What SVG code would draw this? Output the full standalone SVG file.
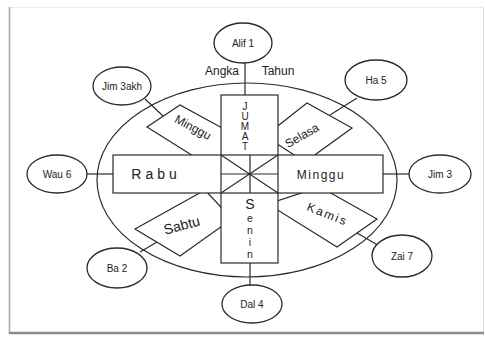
<svg xmlns="http://www.w3.org/2000/svg" width="485" height="337" viewBox="0 0 485 337">
<style>
.ln{fill:none;stroke:#2a2a2a;stroke-width:1.2}
.wf{fill:#fff;stroke:#2a2a2a;stroke-width:1.2}
.nd{fill:#fff;stroke:#2a2a2a;stroke-width:1.3}
.t{font-family:"Liberation Sans",Arial,sans-serif;fill:#222;text-anchor:middle}
.v{writing-mode:vertical-rl;text-orientation:upright}
.s{font-size:10px}
.m{font-size:12px}
.b{font-size:14px}
</style>
<rect x="0" y="0" width="485" height="337" fill="#fff"/>
<g id="frame">
<line x1="9" y1="7.5" x2="484" y2="7.5" stroke="#ececec" stroke-width="1"/>
<line x1="9.5" y1="7" x2="9.5" y2="334" stroke="#a8a8a8" stroke-width="1.6"/>
<line x1="483.5" y1="7" x2="483.5" y2="334" stroke="#dedede" stroke-width="1"/>
<line x1="9" y1="333" x2="484" y2="333" stroke="#8c8c8c" stroke-width="2.5"/>
</g>
<g id="ring">
<ellipse class="ln" cx="247" cy="180" rx="150" ry="97"/>
</g>
<g id="connectors">
<line class="ln" x1="245" y1="62" x2="245" y2="95"/>
<line class="ln" x1="145" y1="99" x2="163" y2="116"/>
<line class="ln" x1="357" y1="98" x2="330" y2="115"/>
<line class="ln" x1="87" y1="174" x2="113" y2="174"/>
<line class="ln" x1="383" y1="174" x2="409" y2="174"/>
<line class="ln" x1="140" y1="252" x2="157" y2="242"/>
<line class="ln" x1="250" y1="263" x2="250" y2="286"/>
<line class="ln" x1="357" y1="233" x2="381" y2="247"/>
</g>
<g id="minggu-diag">
<polygon class="wf" points="225,176 147,127 180,105 235,135"/>
<text class="t m" transform="translate(191,131) rotate(28)">Minggu</text>
</g>
<g id="selasa-diag">
<polygon class="wf" points="265,136 307,103 352,128 305,162"/>
<text class="t m" transform="translate(304,139) rotate(-30)">Selasa</text>
</g>
<g id="sabtu-diag">
<polygon class="wf" points="205,190 135,229 180,256 232,219"/>
<text class="t b" transform="translate(183,230) rotate(-15)">Sabtu</text>
</g>
<g id="kamis-diag">
<polygon class="wf" points="320,187 377,219 337,247 268,204"/>
<text class="t m" letter-spacing="2" transform="translate(326,218) rotate(22)">Kamis</text>
</g>
<g id="cross">
<path d="M221,95 H278 V155 H383 V193 H278 V263 H221 V193 H113 V155 H221 Z" fill="#fff" stroke="none"/>
<rect class="ln" x="221" y="95" width="57" height="168"/>
<rect class="ln" x="113" y="155" width="270" height="38"/>
<line class="ln" x1="221" y1="155" x2="278" y2="193"/>
<line class="ln" x1="278" y1="155" x2="221" y2="193"/>
<line class="ln" x1="250" y1="155" x2="250" y2="193"/>
<line class="ln" x1="221" y1="174" x2="278" y2="174"/>
</g>
<g id="jumat">
<text class="t v" x="245" y="126" font-size="10" letter-spacing="-1">JUMAT</text>
</g>
<g id="senin">
<text class="t v" x="250" y="228" font-size="10.5"><tspan font-size="14">S</tspan>enin</text>
</g>
<g id="rabu">
<text class="t b" x="156" y="179" letter-spacing="4">Rabu</text>
</g>
<g id="minggu-right">
<text class="t m" x="321" y="179" letter-spacing="1.5">Minggu</text>
</g>
<g id="angka-tahun">
<text class="t m" x="222" y="75">Angka</text>
<text class="t m" x="278" y="75">Tahun</text>
</g>
<g id="alif1">
<ellipse class="nd" cx="243" cy="43" rx="29" ry="20"/>
<text class="t s" x="243" y="47">Alif 1</text>
</g>
<g id="jim3akhir">
<ellipse class="nd" cx="122" cy="86" rx="29" ry="19"/>
<text class="t s" x="122" y="90">Jim 3akh</text>
</g>
<g id="ha5">
<ellipse class="nd" cx="376" cy="80" rx="31" ry="20"/>
<text class="t s" x="376" y="84">Ha 5</text>
</g>
<g id="wau6">
<ellipse class="nd" cx="57" cy="174" rx="30" ry="19"/>
<text class="t s" x="57" y="178">Wau 6</text>
</g>
<g id="jim3">
<ellipse class="nd" cx="440" cy="174" rx="31" ry="19"/>
<text class="t s" x="440" y="178">Jim 3</text>
</g>
<g id="ba2">
<ellipse class="nd" cx="117" cy="268" rx="30" ry="20"/>
<text class="t s" x="117" y="272">Ba 2</text>
</g>
<g id="dal4">
<ellipse class="nd" cx="252" cy="304" rx="30" ry="19"/>
<text class="t s" x="252" y="308">Dal 4</text>
</g>
<g id="zai7">
<ellipse class="nd" cx="402" cy="256" rx="30" ry="21"/>
<text class="t s" x="402" y="260">Zai 7</text>
</g>
</svg>
